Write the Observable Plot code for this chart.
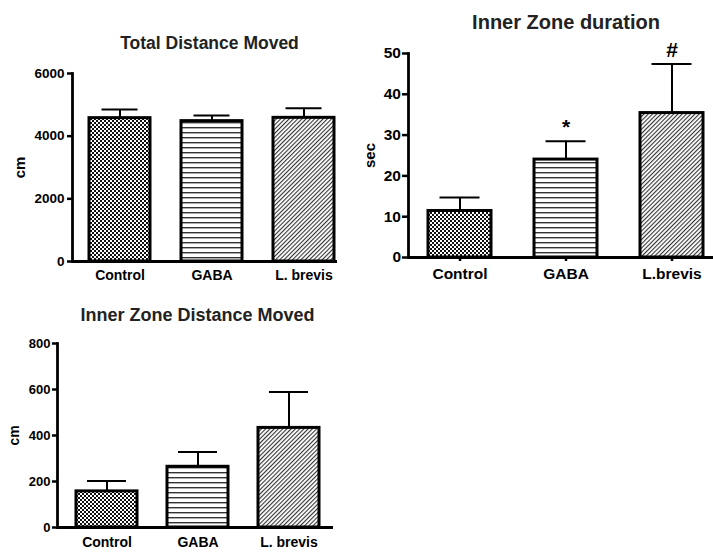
<!DOCTYPE html>
<html>
<head>
<meta charset="utf-8">
<script src="https://cdn.jsdelivr.net/npm/d3@7"></script>
<script src="https://cdn.jsdelivr.net/npm/@observablehq/plot@0.6"></script>
<style>
  html, body { margin: 0; padding: 0; background: #fff; }
  #wrap { position: relative; width: 713px; height: 552px; overflow: hidden; background: #fff; }
  #wrap > svg.plot { position: absolute; }
  svg { font-family: "Liberation Sans", Arial, sans-serif; font-weight: bold; }
</style>
</head>
<body>
<svg width="0" height="0" style="position:absolute">
  <defs>
    <pattern id="pCheck" width="4" height="4" patternUnits="userSpaceOnUse">
      <rect width="4" height="4" fill="#fff"/>
      <rect width="2" height="2" fill="#111"/>
      <rect x="2" y="2" width="2" height="2" fill="#111"/>
    </pattern>
    <pattern id="pHoriz" width="5" height="5" patternUnits="userSpaceOnUse">
      <rect width="5" height="5" fill="#fff"/>
      <rect y="2" width="5" height="1.4" fill="#333"/>
    </pattern>
    <pattern id="pDiag" width="3" height="3" patternUnits="userSpaceOnUse" patternTransform="rotate(45)">
      <rect width="3" height="3" fill="#fff"/>
      <rect width="1.1" height="3" fill="#333"/>
    </pattern>
  </defs>
</svg>
<div id="wrap"></div>
<script>
// ---- data ----
const patterns = ["url(#pCheck)", "url(#pHoriz)", "url(#pDiag)"];

const totalCats = ["Control", "GABA", "L. brevis"];
const totalMean = [4575, 4480, 4585];
const totalErr  = [277, 182, 308];
const totalTicks = [0, 2000, 4000, 6000];

const durCats = ["Control", "GABA", "L.brevis"];
const durMean = [11.4, 24.0, 35.4];
const durErr  = [3.3, 4.5, 12.0];
const durMarks = ["", "*", "#"];
const durTicks = [0, 10, 20, 30, 40, 50];

const distCats = ["Control", "GABA", "L. brevis"];
const distMean = [157, 264, 433];
const distErr  = [45, 64, 156];
const distTicks = [0, 200, 400, 600, 800];

function rows(cats, mean, err, marks) {
  return cats.map((c, i) => ({cat: c, v: mean[i], hi: mean[i] + err[i], mark: marks ? marks[i] : ""}));
}

function panel(o) {
  const data = rows(o.cats, o.mean, o.err, o.marks);
  const svg = Plot.plot({
    width: o.width, height: o.height,
    marginLeft: o.ml, marginRight: o.mr, marginTop: o.mt, marginBottom: o.mb,
    style: {fontFamily: "'Liberation Sans', Arial, sans-serif", fontWeight: "bold", background: "white", overflow: "visible"},
    x: {domain: o.cats, range: o.xRange, paddingInner: o.pad, paddingOuter: 0, label: null},
    y: {domain: o.yDomain, label: null},
    color: {type: "ordinal", domain: o.cats, range: patterns},
    marks: [
      Plot.ruleX(data, {x: "cat", y1: "v", y2: "hi", stroke: "#000", strokeWidth: 2}),
      Plot.tickY(data, {x: "cat", y: "hi", stroke: "#000", strokeWidth: 2, inset: o.capInset}),
      Plot.barY(data, {x: "cat", y: "v", fill: "cat", stroke: "#000", strokeWidth: 3}),
      Plot.text(data, {x: "cat", y: "hi", text: "mark", dy: o.markDy, fontSize: o.markSize, fontWeight: "bold", fill: "#000"}),
      Plot.axisY({ticks: o.ticks, tickSize: o.yTickSize, tickPadding: o.yTickPad, tickFormat: d => String(d), fontSize: o.tickFont, fontWeight: "bold", strokeWidth: 2.5, label: null, fill: "#000", stroke: "#000"}),
      Plot.axisX({tickSize: o.xTickSize, tickPadding: o.xTickPad, fontSize: o.xFont, fontWeight: "bold", strokeWidth: 2.5, label: null, fill: "#000", stroke: "#000"}),
      Plot.ruleY([0], {stroke: "#000", strokeWidth: 2.8}),
      Plot.frame({anchor: "left", stroke: "#000", strokeWidth: 2.8}),
      Plot.text([o.title], {frameAnchor: "top", lineAnchor: "middle", textAnchor: "middle", dy: o.titleDy, dx: o.titleDx, fontSize: o.titleSize, fontWeight: "bold", fill: "#222"}),
      Plot.text([o.ylabel], {frameAnchor: "left", textAnchor: "middle", lineAnchor: "middle", dx: o.ylabDx, rotate: -90, fontSize: o.ylabSize, fontWeight: "bold", fill: "#000"})
    ]
  });
  svg.classList.add("plot");
  svg.style.left = o.left + "px";
  svg.style.top = o.top + "px";
  document.getElementById("wrap").appendChild(svg);
}

panel({
  cats: totalCats, mean: totalMean, err: totalErr, ticks: totalTicks, yDomain: [0, 6000],
  left: 0, top: 0, width: 345, height: 290, ml: 72, mr: 8, mt: 73, mb: 29,
  xRange: [88, 334.5], pad: 0.34, capInset: 12.5, markDy: -10, markSize: 18,
  yTickSize: 5, yTickPad: 3, tickFont: 13.5, xTickSize: 0, xTickPad: 9, xFont: 14,
  title: "Total Distance Moved", titleDy: -30, titleDx: 4.5, titleSize: 17.5,
  ylabel: "cm", ylabDx: -52, ylabSize: 15
});

panel({
  cats: durCats, mean: durMean, err: durErr, marks: durMarks, ticks: durTicks, yDomain: [0, 50],
  left: 350, top: 0, width: 363, height: 290, ml: 58, mr: 0, mt: 53, mb: 33,
  xRange: [77, 353], pad: 0.408, capInset: 11.5, markDy: -14, markSize: 21,
  yTickSize: 6, yTickPad: 1.5, tickFont: 15.5, xTickSize: 4, xTickPad: 6.5, xFont: 15.5,
  title: "Inner Zone duration", titleDy: -31, titleDx: 5, titleSize: 20,
  ylabel: "sec", ylabDx: -38, ylabSize: 15
});

panel({
  cats: distCats, mean: distMean, err: distErr, ticks: distTicks, yDomain: [0, 800],
  left: 0, top: 295, width: 345, height: 257, ml: 57, mr: 12, mt: 48, mb: 25,
  xRange: [76, 320], pad: 0.326, capInset: 11, markDy: -10, markSize: 18,
  yTickSize: 5, yTickPad: 2, tickFont: 13, xTickSize: 0, xTickPad: 9.5, xFont: 14,
  title: "Inner Zone Distance Moved", titleDy: -28, titleDx: 2, titleSize: 18,
  ylabel: "cm", ylabDx: -43, ylabSize: 14
});
</script>
</body>
</html>
